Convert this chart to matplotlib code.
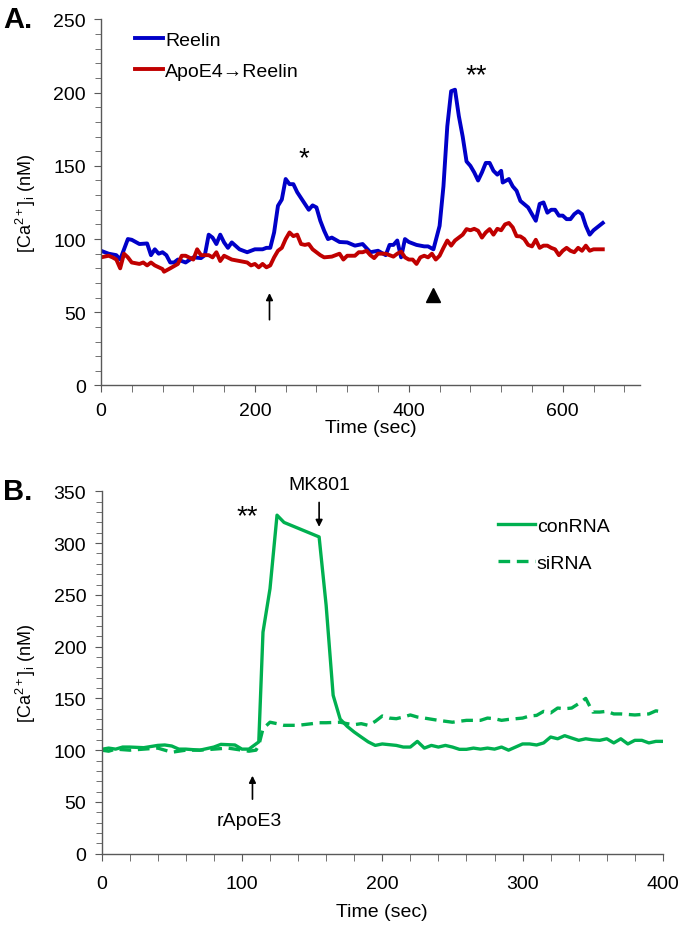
import matplotlib
matplotlib.use('Agg')
import matplotlib.pyplot as plt
from matplotlib.ticker import MultipleLocator

plt.rcParams['font.family'] = ['Liberation Sans', 'DejaVu Sans']
plt.rcParams['mathtext.default'] = 'regular'

# %% data - panel A
reelin_t = [0, 10, 20, 25, 30, 35, 40, 50, 60, 65, 70, 75, 80, 85, 90, 95, 100, 110, 120, 130,
            135, 140, 145, 150, 155, 160, 165, 170, 180, 190, 200, 210, 215, 220, 225, 230, 235, 240, 245, 250,
            255, 260, 265, 270, 275, 280, 285, 290, 295, 300, 310, 320, 330, 340, 350, 360, 370, 375, 380, 385,
            390, 395, 400, 410, 420, 425, 432, 440, 445, 450, 455, 460, 465, 470, 475, 480, 485, 490, 495, 500,
            505, 510, 515, 520, 522, 530, 535, 540, 545, 555, 560, 565, 570, 575, 580, 585, 590, 595, 600, 605,
            610, 615, 620, 625, 630, 635, 640, 652]
reelin_ca = [92, 90, 89, 86, 93, 100, 99.5, 96.6, 97, 89, 93, 90, 91, 89, 84, 84, 86, 84, 87.5, 87,
             89, 103, 101, 96.6, 103, 97.7, 94, 97.7, 93, 91, 93, 93, 94, 94, 104.5, 122.7, 127, 141, 137.5, 137.5,
             132, 128, 124, 120, 123, 121.6, 112.5, 105.7, 100, 101, 98, 97.7, 95.5, 96.6, 91, 92, 89, 96, 96, 99,
             87.5, 100, 98, 96, 95, 95, 93, 109, 136, 177, 201, 202, 184, 170, 153, 150, 145.5, 140, 145.5, 152,
             152, 146.6, 144, 146.6, 138.6, 141, 136, 133, 126, 121.6, 117, 112.5, 124, 125, 118, 120, 120, 116, 116, 113.6,
             113.6, 117, 119, 117, 109, 103, 106, 111]

apoe4_t = [0, 10, 15, 20, 25, 30, 35, 40, 50, 55, 60, 65, 70, 80, 82, 90, 100, 105, 110, 120,
           125, 130, 140, 145, 150, 155, 160, 170, 180, 190, 195, 200, 205, 210, 215, 220, 225, 230, 235, 240,
           245, 250, 255, 260, 265, 270, 275, 280, 285, 290, 300, 310, 315, 320, 330, 335, 340, 345, 350, 355,
           360, 370, 380, 385, 390, 395, 400, 405, 410, 415, 420, 425, 430, 435, 440, 445, 450, 455, 460, 465,
           470, 475, 480, 485, 490, 495, 500, 505, 510, 515, 520, 525, 530, 535, 540, 545, 550, 555, 560, 565,
           570, 575, 580, 585, 590, 595, 600, 605, 610, 615, 620, 625, 630, 635, 640, 652]
apoe4_ca = [87.5, 88.6, 87.5, 86, 80, 90, 87.5, 84, 83, 84, 82, 84, 82, 79.5, 77.7, 80, 83, 88.6, 88.6, 86,
            93, 89, 89, 87.5, 91, 85, 88.6, 86, 85, 84, 82, 83, 80.7, 83, 80.7, 82, 87.5, 92, 94, 100,
            104.5, 102, 103, 96.6, 96, 96.6, 93, 91, 89, 87.5, 88, 90, 86, 88.6, 88.6, 91, 91, 92, 89, 87,
            90, 90, 88, 90, 91.4, 87.5, 86, 86, 83, 87.5, 88.6, 87.5, 90, 86, 88.6, 94, 99, 95.5, 99, 101,
            103, 106.8, 106, 107, 105.7, 101, 104.5, 106.8, 103, 107, 106, 110, 111, 108, 102, 101.8, 100, 96, 95, 99.5,
            94, 95.5, 95.5, 94, 93, 89, 92, 94, 92, 91, 94, 92, 95.5, 92, 93, 93]

# %% data - panel B
con_t = [0, 5, 10, 15, 20, 30, 40, 45, 50, 55, 60, 70, 80, 85, 95, 100, 105, 110, 112, 115,
         120, 125, 130, 155, 160, 165, 170, 175, 180, 185, 190, 195, 200, 210, 215, 220, 225, 230, 235, 240,
         245, 250, 255, 260, 265, 270, 275, 280, 285, 290, 295, 300, 305, 310, 315, 320, 325, 330, 335, 340,
         345, 350, 355, 360, 365, 370, 375, 380, 385, 390, 395, 400]
con_ca = [100.8, 102, 101, 103, 103, 102.4, 104.6, 105, 104, 101, 101, 100, 103, 105.6, 105, 101, 101, 106, 108, 214,
          256, 327, 320, 306, 240, 153, 130, 123, 117.5, 112.7, 108, 104.6, 106, 104.6, 103, 103, 108.5, 102, 104.6, 103,
          104.6, 103, 100.8, 100.8, 102, 101, 102, 101, 103, 100, 103, 106, 106, 105, 107, 112.7, 111, 114, 111.7, 109.5,
          111, 110, 109.5, 111, 107, 111, 106, 109.5, 109.5, 107, 108.5, 108.5]

si_t = [0, 5, 10, 20, 30, 40, 50, 60, 70, 80, 90, 100, 105, 110, 112, 115, 120, 125, 130, 140,
        150, 155, 160, 170, 175, 180, 185, 190, 195, 200, 205, 210, 215, 220, 225, 230, 240, 250, 260, 270,
        275, 280, 285, 290, 300, 305, 310, 315, 320, 325, 330, 335, 340, 345, 350, 355, 360, 365, 370, 380,
        390, 395, 400]
si_ca = [100, 99, 101, 100, 101, 102, 98, 100, 100, 101, 102, 100, 99, 100, 104.6, 120.7, 127, 125.6, 124, 124,
         125.6, 126.5, 126.5, 127, 125.6, 124.6, 125.6, 124, 127.8, 133, 131, 130.4, 132, 134, 132, 131, 128.8, 127, 128.8, 128.8,
         131, 130.4, 128.8, 129.7, 131, 133, 133.6, 137.5, 136, 140.7, 140, 140.7, 145, 150, 136.8, 136.8, 137.5, 135, 135, 134,
         135, 138, 136.8]

FS = 14
AXIS_COLOR = '#595959'
YLABEL = '[Ca$^{2+}$]$_{i}$ (nM)'


def style_axes(ax, xpad=7):
    for side in ['top', 'right']:
        ax.spines[side].set_visible(False)
    for side in ['left', 'bottom']:
        ax.spines[side].set_color(AXIS_COLOR)
        ax.spines[side].set_linewidth(1.0)
    ax.tick_params(which='both', colors=AXIS_COLOR, labelcolor='black', labelsize=FS, direction='out')
    ax.tick_params(axis='y', which='major', length=5, pad=6)
    ax.tick_params(axis='y', which='minor', length=4)
    ax.tick_params(axis='x', which='major', length=5, pad=xpad)
    ax.tick_params(axis='x', which='minor', length=5)


fig = plt.figure(figsize=(6.82, 9.29), dpi=100)

# %% panel A
ax1 = fig.add_axes([0.148, 0.584, 0.790, 0.394])
ax1.plot(reelin_t, reelin_ca, color='#0000C8', lw=2.8, label='Reelin')
ax1.plot(apoe4_t, apoe4_ca, color='#C00000', lw=2.8, label='ApoE4→Reelin')
ax1.set_xlim(0, 700)
ax1.set_ylim(0, 250)
ax1.xaxis.set_major_locator(MultipleLocator(200))
ax1.xaxis.set_minor_locator(MultipleLocator(40))
ax1.yaxis.set_major_locator(MultipleLocator(50))
ax1.yaxis.set_minor_locator(MultipleLocator(10))
style_axes(ax1)
ax1.set_xlabel('Time (sec)', fontsize=FS, labelpad=0)
ax1.set_ylabel(YLABEL, fontsize=13, labelpad=11)
ax1.legend(loc='upper left', bbox_to_anchor=(0.063, 0.968), frameon=False, fontsize=14,
           handlelength=1.45, handletextpad=0.1, labelspacing=0.7, borderpad=0, borderaxespad=0)
ax1.text(264, 155, '*', fontsize=20, ha='center', va='center')
ax1.text(488, 212, '**', fontsize=20, ha='center', va='center')
ax1.annotate('', xy=(219, 65), xytext=(219, 43),
             arrowprops=dict(arrowstyle='-|>', color='black', lw=1.2, mutation_scale=10))
ax1.plot([432], [62], marker='^', color='black', markersize=10, clip_on=False)
fig.text(0.005, 0.979, 'A.', fontsize=21, fontweight='bold', ha='left', va='center')

# %% panel B
ax2 = fig.add_axes([0.149, 0.080, 0.823, 0.390])
ax2.plot(con_t, con_ca, color='#00B050', lw=2.4, label='conRNA')
ax2.plot(si_t, si_ca, color='#00B050', lw=2.4, ls=(0, (3.5, 2)), label='siRNA')
ax2.set_xlim(0, 400)
ax2.set_ylim(0, 350)
ax2.xaxis.set_major_locator(MultipleLocator(100))
ax2.xaxis.set_minor_locator(MultipleLocator(20))
ax2.yaxis.set_major_locator(MultipleLocator(50))
ax2.yaxis.set_minor_locator(MultipleLocator(10))
style_axes(ax2, xpad=10)
ax2.set_xlabel('Time (sec)', fontsize=FS, labelpad=8)
ax2.set_ylabel(YLABEL, fontsize=13, labelpad=11)
ax2.legend(loc='upper left', bbox_to_anchor=(0.706, 0.928), frameon=False, fontsize=14,
           handlelength=1.9, handletextpad=0.1, labelspacing=1.0, borderpad=0, borderaxespad=0)
ax2.text(104, 326, '**', fontsize=20, ha='center', va='center')
ax2.text(155, 357, 'MK801', fontsize=FS, ha='center', va='center', clip_on=False)
ax2.annotate('', xy=(155, 313), xytext=(155, 342),
             arrowprops=dict(arrowstyle='-|>', color='black', lw=1.2, mutation_scale=10))
ax2.annotate('', xy=(107.5, 78), xytext=(107.5, 50),
             arrowprops=dict(arrowstyle='-|>', color='black', lw=1.2, mutation_scale=10))
ax2.text(105, 32, 'rApoE3', fontsize=FS, ha='center', va='center')
fig.text(0.005, 0.470, 'B.', fontsize=21, fontweight='bold', ha='left', va='center')

fig.savefig('out.png', dpi=100)
